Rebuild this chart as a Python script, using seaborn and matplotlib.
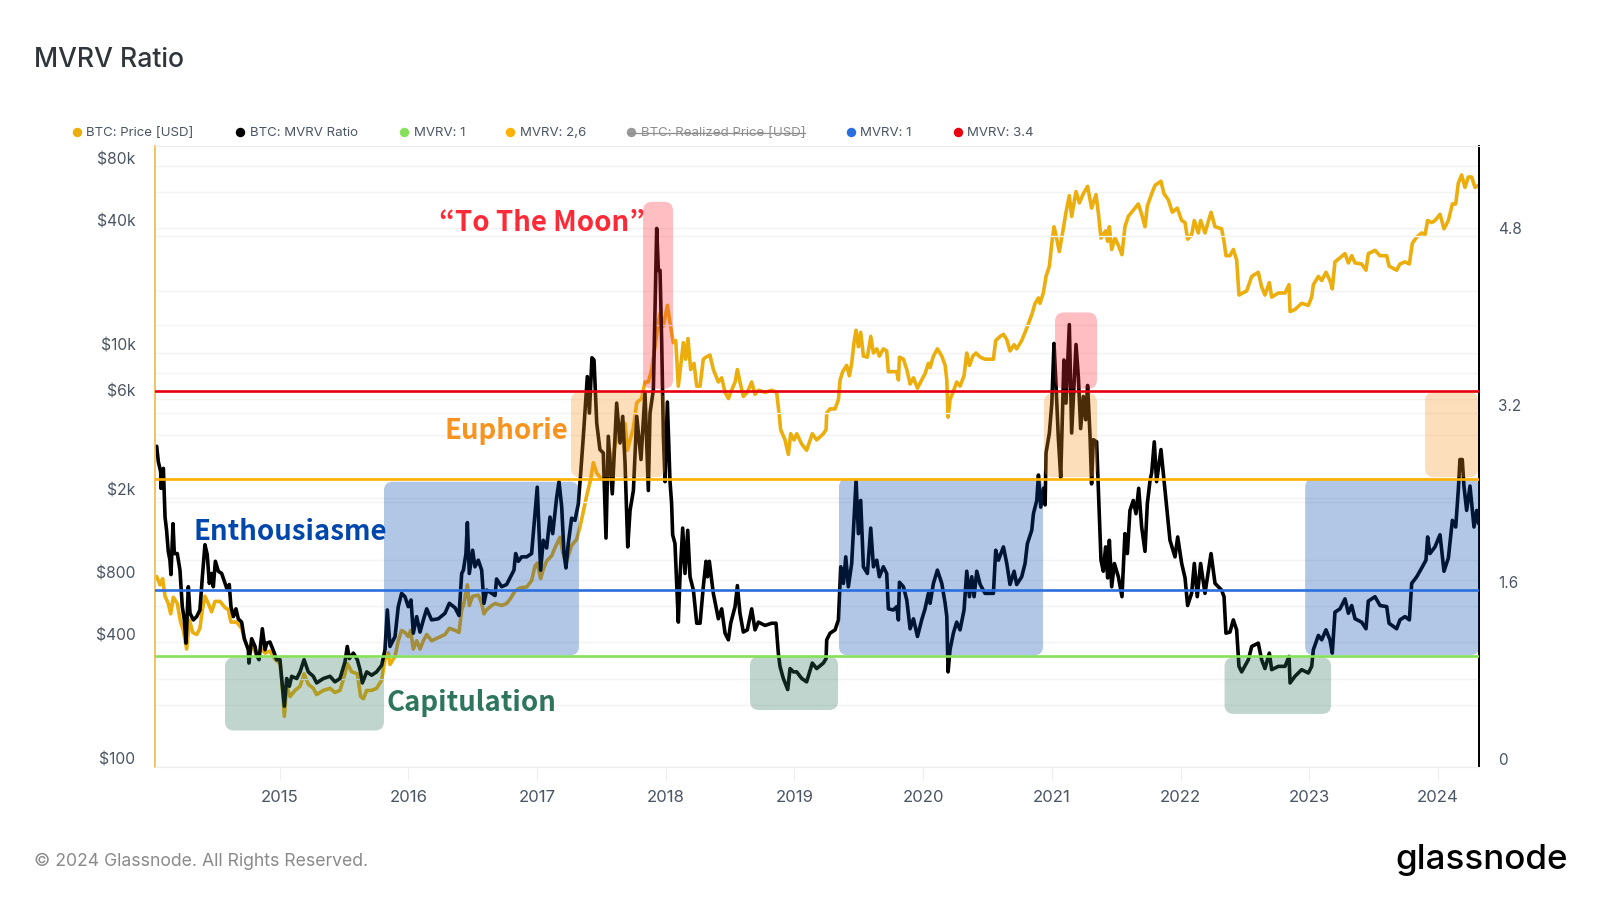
import numpy as np
import pandas as pd
import matplotlib
matplotlib.use("Agg")
import matplotlib.pyplot as plt
import seaborn as sns
from matplotlib.patches import FancyBboxPatch
from matplotlib.lines import Line2D
from matplotlib.transforms import ScaledTranslation, IdentityTransform

TITLE = "MVRV Ratio"
FOOTER = "© 2024 Glassnode. All Rights Reserved."

mvrv_years = [
2014.045,2014.058,2014.076,2014.078,2014.097,2014.110,2014.122,2014.135,2014.148,2014.156,
2014.172,2014.182,2014.205,2014.226,2014.244,2014.260,2014.273,2014.291,2014.304,2014.330,
2014.356,2014.381,2014.400,2014.420,2014.438,2014.454,2014.472,2014.485,2014.501,2014.524,
2014.550,2014.576,2014.594,2014.609,2014.622,2014.641,2014.661,2014.679,2014.705,2014.726,
2014.757,2014.762,2014.783,2014.809,2014.822,2014.840,2014.866,2014.887,2014.900,2014.925,
2014.956,2014.977,2015.003,2015.016,2015.037,2015.055,2015.076,2015.094,2015.133,2015.159,
2015.190,2015.223,2015.262,2015.288,2015.340,2015.392,2015.430,2015.469,2015.508,2015.526,
2015.542,2015.573,2015.604,2015.625,2015.643,2015.677,2015.715,2015.754,2015.793,2015.819,
2015.837,2015.858,2015.897,2015.922,2015.948,2015.974,2016.000,2016.021,2016.039,2016.065,
2016.091,2016.117,2016.143,2016.181,2016.233,2016.285,2016.319,2016.363,2016.394,2016.415,
2016.428,2016.448,2016.459,2016.474,2016.500,2016.518,2016.544,2016.570,2016.588,2016.609,
2016.648,2016.674,2016.686,2016.725,2016.764,2016.790,2016.821,2016.834,2016.855,2016.881,
2016.920,2016.958,2016.984,2017.002,2017.028,2017.049,2017.075,2017.101,2017.122,2017.153,
2017.171,2017.192,2017.210,2017.225,2017.243,2017.269,2017.295,2017.321,2017.339,2017.360,
2017.391,2017.407,2017.427,2017.443,2017.464,2017.489,2017.515,2017.536,2017.554,2017.585,
2017.619,2017.645,2017.666,2017.684,2017.705,2017.723,2017.749,2017.775,2017.808,2017.839,
2017.865,2017.878,2017.904,2017.930,2017.943,2017.956,2017.969,2017.982,2017.995,2018.013,
2018.033,2018.046,2018.054,2018.072,2018.098,2018.111,2018.132,2018.150,2018.171,2018.189,
2018.215,2018.241,2018.267,2018.292,2018.313,2018.324,2018.339,2018.370,2018.409,2018.435,
2018.461,2018.487,2018.505,2018.539,2018.557,2018.577,2018.603,2018.634,2018.668,2018.694,
2018.720,2018.772,2018.823,2018.857,2018.875,2018.888,2018.914,2018.948,2018.966,2018.992,
2019.018,2019.057,2019.095,2019.139,2019.173,2019.225,2019.246,2019.251,2019.277,2019.316,
2019.342,2019.360,2019.381,2019.399,2019.419,2019.445,2019.463,2019.479,2019.497,2019.515,
2019.536,2019.567,2019.593,2019.614,2019.640,2019.660,2019.691,2019.717,2019.730,2019.769,
2019.795,2019.808,2019.816,2019.847,2019.873,2019.899,2019.925,2019.956,2019.989,2020.015,
2020.041,2020.054,2020.080,2020.111,2020.145,2020.171,2020.184,2020.194,2020.209,2020.235,
2020.261,2020.287,2020.318,2020.339,2020.360,2020.378,2020.396,2020.417,2020.443,2020.481,
2020.546,2020.564,2020.585,2020.624,2020.650,2020.675,2020.707,2020.727,2020.766,2020.792,
2020.810,2020.844,2020.857,2020.883,2020.896,2020.914,2020.935,2020.948,2020.955,2020.981,
2021.000,2021.017,2021.032,2021.050,2021.069,2021.094,2021.110,2021.136,2021.154,2021.188,
2021.206,2021.224,2021.245,2021.263,2021.278,2021.297,2021.309,2021.322,2021.348,2021.361,
2021.382,2021.400,2021.418,2021.434,2021.447,2021.465,2021.486,2021.517,2021.545,2021.568,
2021.587,2021.607,2021.633,2021.654,2021.675,2021.698,2021.724,2021.742,2021.763,2021.776,
2021.796,2021.814,2021.848,2021.871,2021.892,2021.918,2021.957,2021.978,2022.009,2022.035,
2022.055,2022.086,2022.107,2022.130,2022.156,2022.190,2022.237,2022.268,2022.319,2022.338,
2022.353,2022.384,2022.410,2022.436,2022.454,2022.475,2022.527,2022.553,2022.604,2022.630,
2022.656,2022.690,2022.708,2022.760,2022.812,2022.843,2022.851,2022.889,2022.941,2022.993,
2023.019,2023.032,2023.071,2023.097,2023.130,2023.161,2023.179,2023.200,2023.239,2023.278,
2023.304,2023.330,2023.356,2023.407,2023.441,2023.459,2023.511,2023.550,2023.602,2023.620,
2023.679,2023.705,2023.744,2023.778,2023.796,2023.835,2023.874,2023.907,2023.920,2023.938,
2023.977,2024.016,2024.047,2024.081,2024.112,2024.138,2024.158,2024.171,2024.189,2024.202,
2024.223,2024.249,2024.280,2024.301,2024.316]

mvrv_values = [
2.90,2.76,2.67,2.52,2.70,2.26,2.14,1.95,1.87,1.74,
2.20,1.93,1.93,1.78,1.45,1.33,1.12,1.63,1.39,1.33,
1.36,1.42,1.72,2.01,1.92,1.66,1.75,1.63,1.86,1.77,
1.75,1.66,1.60,1.65,1.45,1.36,1.43,1.34,1.31,1.16,
1.06,0.94,1.16,1.09,1.01,0.97,1.25,1.06,1.12,1.13,
1.04,0.97,0.97,0.80,0.55,0.80,0.73,0.82,0.80,0.86,
0.97,0.86,0.82,0.76,0.80,0.82,0.77,0.80,0.95,1.09,
0.98,1.03,0.97,0.88,0.76,0.86,0.83,0.86,0.92,1.06,
1.42,1.09,1.18,1.45,1.57,1.54,1.45,1.51,1.21,1.36,
1.22,1.33,1.43,1.33,1.34,1.39,1.48,1.44,1.37,1.75,
1.78,1.93,2.21,1.75,1.96,1.81,1.87,1.78,1.48,1.60,
1.57,1.55,1.70,1.63,1.65,1.71,1.78,1.93,1.86,1.90,
1.90,1.93,2.29,2.53,1.78,2.05,1.98,2.26,2.11,2.44,
2.58,2.35,1.93,1.80,2.02,2.25,2.23,2.38,2.65,2.99,
3.53,3.20,3.70,3.68,3.11,2.87,2.84,2.07,2.99,2.47,
3.29,2.93,3.17,2.75,1.99,2.32,2.50,3.17,2.78,3.38,
2.50,3.20,3.41,4.87,4.49,4.49,3.83,2.99,2.58,3.30,
2.59,2.38,2.10,2.02,1.31,1.72,2.16,1.75,2.14,1.72,
1.60,1.30,1.30,1.63,1.86,1.72,1.86,1.57,1.34,1.43,
1.21,1.15,1.30,1.45,1.64,1.39,1.22,1.24,1.43,1.24,
1.31,1.28,1.30,1.30,1.03,0.91,0.80,0.70,0.89,0.86,
0.86,0.80,0.77,0.94,0.89,0.94,0.98,1.15,1.21,1.24,
1.33,1.81,1.66,1.90,1.63,1.84,2.23,2.59,2.11,2.41,
1.81,1.75,2.16,1.81,1.87,1.72,1.81,1.75,1.43,1.42,
1.45,1.33,1.67,1.63,1.51,1.25,1.34,1.18,1.33,1.43,
1.57,1.48,1.66,1.78,1.66,1.48,1.36,0.86,1.06,1.21,
1.31,1.24,1.42,1.77,1.54,1.72,1.54,1.77,1.65,1.57,
1.57,1.96,1.87,1.99,1.84,1.65,1.77,1.65,1.72,1.84,
2.02,2.14,2.29,2.41,2.64,2.35,2.52,2.37,2.84,3.02,
3.29,3.83,3.47,2.99,2.62,3.68,3.29,4.00,3.02,3.82,
3.53,3.06,3.35,3.14,3.45,2.99,2.56,2.96,2.94,2.54,
1.87,1.77,1.99,1.71,2.05,1.63,1.84,1.72,1.54,2.11,
1.93,2.32,2.41,2.29,2.52,2.17,1.95,2.38,2.59,2.66,
2.94,2.58,2.87,2.60,2.36,2.05,1.90,2.08,1.84,1.71,
1.46,1.57,1.84,1.54,1.84,1.57,1.93,1.66,1.60,1.54,
1.21,1.22,1.33,1.24,0.91,0.86,0.97,1.09,1.12,0.97,
0.89,1.03,0.88,0.91,0.91,1.00,0.76,0.82,0.88,0.85,
0.91,1.06,1.19,1.15,1.24,1.15,1.03,1.40,1.43,1.52,
1.39,1.46,1.34,1.31,1.25,1.50,1.54,1.46,1.45,1.30,
1.25,1.33,1.36,1.33,1.66,1.72,1.80,1.87,2.08,1.93,
1.99,2.10,1.77,1.89,2.23,2.17,2.50,2.78,2.78,2.54,
2.32,2.54,2.17,2.32,2.20]

price_years = [
2014.045,2014.071,2014.091,2014.110,2014.135,2014.154,2014.174,2014.205,2014.231,2014.252,
2014.278,2014.299,2014.325,2014.356,2014.381,2014.400,2014.420,2014.446,2014.472,2014.498,
2014.537,2014.576,2014.602,2014.622,2014.641,2014.666,2014.705,2014.726,2014.757,2014.783,
2014.822,2014.861,2014.887,2014.925,2014.964,2015.003,2015.016,2015.037,2015.055,2015.081,
2015.120,2015.159,2015.190,2015.223,2015.262,2015.288,2015.340,2015.392,2015.430,2015.469,
2015.508,2015.526,2015.560,2015.604,2015.630,2015.651,2015.677,2015.715,2015.754,2015.793,
2015.819,2015.845,2015.858,2015.897,2015.922,2015.948,2015.974,2016.000,2016.018,2016.039,
2016.065,2016.091,2016.117,2016.143,2016.181,2016.233,2016.285,2016.319,2016.363,2016.394,
2016.415,2016.428,2016.459,2016.474,2016.500,2016.544,2016.570,2016.588,2016.609,2016.648,
2016.674,2016.725,2016.764,2016.790,2016.829,2016.868,2016.920,2016.958,2016.984,2017.002,
2017.028,2017.049,2017.075,2017.114,2017.140,2017.179,2017.199,2017.225,2017.269,2017.308,
2017.334,2017.360,2017.386,2017.417,2017.438,2017.464,2017.502,2017.541,2017.593,2017.645,
2017.684,2017.702,2017.723,2017.749,2017.775,2017.813,2017.839,2017.865,2017.891,2017.917,
2017.943,2017.956,2017.982,2018.013,2018.033,2018.059,2018.078,2018.098,2018.119,2018.137,
2018.155,2018.173,2018.194,2018.220,2018.241,2018.267,2018.292,2018.313,2018.344,2018.370,
2018.409,2018.435,2018.461,2018.487,2018.505,2018.539,2018.557,2018.577,2018.603,2018.634,
2018.668,2018.694,2018.720,2018.772,2018.823,2018.862,2018.883,2018.893,2018.927,2018.953,
2018.971,2018.997,2019.018,2019.057,2019.095,2019.139,2019.173,2019.225,2019.246,2019.251,
2019.277,2019.316,2019.342,2019.355,2019.375,2019.406,2019.427,2019.445,2019.463,2019.479,
2019.497,2019.515,2019.536,2019.567,2019.593,2019.614,2019.640,2019.660,2019.691,2019.717,
2019.730,2019.769,2019.795,2019.808,2019.816,2019.847,2019.873,2019.899,2019.925,2019.956,
2019.989,2020.015,2020.041,2020.054,2020.080,2020.111,2020.145,2020.171,2020.184,2020.194,
2020.209,2020.235,2020.261,2020.287,2020.318,2020.339,2020.360,2020.386,2020.411,2020.443,
2020.481,2020.546,2020.564,2020.598,2020.624,2020.650,2020.675,2020.707,2020.727,2020.766,
2020.805,2020.844,2020.870,2020.896,2020.908,2020.934,2020.955,2020.981,2021.000,2021.017,
2021.032,2021.058,2021.089,2021.110,2021.136,2021.154,2021.188,2021.214,2021.245,2021.278,
2021.309,2021.343,2021.361,2021.382,2021.418,2021.434,2021.447,2021.465,2021.491,2021.517,
2021.545,2021.568,2021.594,2021.633,2021.672,2021.698,2021.724,2021.742,2021.776,2021.802,
2021.848,2021.871,2021.905,2021.936,2021.975,2022.009,2022.035,2022.055,2022.086,2022.107,
2022.138,2022.156,2022.190,2022.237,2022.268,2022.319,2022.338,2022.353,2022.384,2022.410,
2022.436,2022.454,2022.514,2022.553,2022.604,2022.630,2022.656,2022.690,2022.708,2022.760,
2022.812,2022.843,2022.851,2022.889,2022.941,2022.993,2023.019,2023.032,2023.071,2023.097,
2023.130,2023.161,2023.179,2023.200,2023.239,2023.278,2023.304,2023.330,2023.356,2023.407,
2023.441,2023.459,2023.511,2023.550,2023.602,2023.620,2023.679,2023.705,2023.744,2023.778,
2023.801,2023.835,2023.874,2023.899,2023.920,2023.951,2023.977,2024.016,2024.047,2024.081,
2024.112,2024.138,2024.158,2024.184,2024.210,2024.236,2024.262,2024.288,2024.316]

# BTC price, as log10(USD)
price_log10_usd = [
2.92,2.88,2.91,2.825,2.79,2.74,2.82,2.79,2.70,2.66,
2.57,2.71,2.65,2.64,2.67,2.76,2.825,2.79,2.75,2.80,
2.80,2.77,2.76,2.70,2.70,2.70,2.67,2.62,2.57,2.59,
2.54,2.57,2.55,2.56,2.52,2.50,2.43,2.245,2.39,2.34,
2.37,2.39,2.45,2.40,2.38,2.35,2.37,2.38,2.36,2.37,
2.45,2.50,2.46,2.45,2.34,2.33,2.37,2.37,2.38,2.42,
2.52,2.55,2.495,2.535,2.61,2.66,2.65,2.63,2.66,2.57,
2.61,2.57,2.61,2.64,2.61,2.625,2.64,2.67,2.66,2.65,
2.76,2.78,2.88,2.78,2.825,2.83,2.79,2.74,2.76,2.78,
2.79,2.78,2.79,2.81,2.85,2.865,2.87,2.90,2.97,2.985,
2.91,2.955,2.995,3.02,3.06,3.11,3.04,2.985,3.07,3.10,
3.16,3.235,3.31,3.39,3.47,3.42,3.39,3.405,3.52,3.65,
3.66,3.53,3.58,3.64,3.76,3.78,3.86,3.86,3.92,4.03,
4.15,4.19,4.13,4.23,4.15,4.05,4.06,3.84,3.95,4.05,
3.97,4.07,3.92,3.95,3.84,3.84,3.97,3.98,3.99,3.92,
3.86,3.88,3.81,3.78,3.81,3.86,3.92,3.86,3.79,3.81,
3.86,3.80,3.82,3.81,3.82,3.81,3.695,3.63,3.58,3.51,
3.61,3.58,3.61,3.56,3.53,3.61,3.58,3.61,3.63,3.71,
3.73,3.73,3.775,3.87,3.91,3.94,3.89,3.95,4.05,4.11,
4.03,4.10,3.985,3.98,4.08,4.00,4.02,3.985,4.02,4.01,
3.91,3.91,3.91,3.87,3.98,3.97,3.92,3.85,3.88,3.83,
3.87,3.90,3.95,3.93,3.985,4.02,3.985,3.94,3.87,3.69,
3.775,3.815,3.86,3.84,3.89,4.00,3.94,3.985,4.00,3.98,
3.97,3.97,4.06,4.08,4.09,4.065,4.01,4.04,4.02,4.06,
4.12,4.185,4.24,4.266,4.24,4.29,4.37,4.42,4.53,4.61,
4.57,4.49,4.60,4.68,4.76,4.66,4.78,4.725,4.77,4.805,
4.70,4.765,4.68,4.555,4.59,4.54,4.61,4.50,4.555,4.52,
4.475,4.61,4.66,4.69,4.72,4.67,4.61,4.71,4.77,4.81,
4.83,4.77,4.74,4.68,4.70,4.64,4.63,4.55,4.57,4.64,
4.58,4.64,4.58,4.68,4.61,4.60,4.54,4.47,4.47,4.50,
4.45,4.28,4.30,4.37,4.39,4.32,4.28,4.34,4.27,4.29,
4.29,4.33,4.20,4.21,4.24,4.23,4.27,4.33,4.37,4.35,
4.39,4.35,4.31,4.44,4.46,4.48,4.435,4.47,4.435,4.43,
4.40,4.48,4.496,4.47,4.47,4.42,4.40,4.43,4.44,4.43,
4.53,4.56,4.58,4.57,4.64,4.63,4.64,4.67,4.60,4.64,
4.72,4.72,4.82,4.86,4.80,4.85,4.85,4.80,4.81]

year_ticks = [2015,2016,2017,2018,2019,2020,2021,2022,2023,2024]
price_ticks = [100,400,800,2000,6000,10000,40000,80000]
price_tick_labels = ["$100","$400","$800","$2k","$6k","$10k","$40k","$80k"]
price_minor_ticks = [200,600,1000,4000,8000,20000,60000]
mvrv_ticks = [0,1.6,3.2,4.8]
mvrv_minor_ticks = [0.8,2.4,4.0]

level_values = [1.0,1.6,2.6,3.4]
level_colors = ["#86E05A","#2B6FDE","#FFB000","#E8000F"]

legend_labels = ["BTC: Price [USD]","BTC: MVRV Ratio","MVRV: 1","MVRV: 2,6",
                 "BTC: Realized Price [USD]","MVRV: 1","MVRV: 3.4"]
legend_colors = ["#ECAE0C","#000000","#86E05A","#FFB000","#9A9A9A","#2B6FDE","#E8000F"]

BLUE, GREEN, ORANGE, RED = "#0047AB", "#2D765C", "#F7931E", "#FF2A37"
# zones: (start year, end year, low MVRV, high MVRV)
zones_blue = [(2015.811,2017.326,1.01,2.58),(2019.346,2020.932,1.01,2.61),(2022.968,2024.320,1.01,2.61)]
zones_green = [(2014.576,2015.811,0.33,0.99),(2018.655,2019.339,0.515,1.00),(2022.342,2023.170,0.48,0.99)]
zones_orange = [(2017.264,2017.995,2.62,3.39),(2020.939,2021.351,2.62,3.38),(2023.900,2024.312,2.62,3.39)]
zones_red = [(2017.824,2018.057,3.42,5.11),(2021.025,2021.351,3.42,4.11)]

W, H = 1600, 900
FONT = ["Inter","DejaVu Sans"]
HEAD = ["Noto Sans CJK JP","DejaVu Sans"]
TICK = "#4B5563"

sns.set_theme(style="white")
plt.rcParams["font.family"] = FONT
fig = plt.figure(figsize=(16,9), dpi=100, facecolor="white")
ax = fig.add_axes([155/W, 1-767/H, 1324/W, 621/H])
ax2 = ax.twinx()

price_df = pd.DataFrame({"year":price_years,"price":10**np.array(price_log10_usd)})
mvrv_df = pd.DataFrame({"year":mvrv_years,"mvrv":mvrv_values})

sns.lineplot(data=price_df,x="year",y="price",ax=ax,color="#ECAE0C",lw=2.6,estimator=None,sort=False,errorbar=None)
sns.lineplot(data=mvrv_df,x="year",y="mvrv",ax=ax2,color="#000000",lw=2.6,estimator=None,sort=False,errorbar=None,zorder=2)

ax.set_yscale("log")
ax.set_xlim(2014.032,2024.319)
ax.set_ylim(100,100000)
ax2.set_ylim(0,5.615)
ax.set_xlabel(""); ax.set_ylabel(""); ax2.set_ylabel("")

ax.set_xticks(year_ticks)
ax.set_xticklabels([str(y) for y in year_ticks])
ax.set_yticks(price_ticks)
ax.set_yticklabels(price_tick_labels)
ax.set_yticks(price_minor_ticks,minor=True)
ax.set_yticklabels([""]*len(price_minor_ticks),minor=True)
ax2.set_yticks(mvrv_ticks)
ax2.set_yticklabels(["0","1.6","3.2","4.8"])
ax2.set_yticks(mvrv_minor_ticks,minor=True)
ax2.set_yticklabels([""]*len(mvrv_minor_ticks),minor=True)

GRID = "#F3F3F3"
for a in (ax,ax2):
    a.grid(True,which="both",axis="y",color=GRID,lw=1,zorder=0)
    a.set_axisbelow(True)
ax.grid(False,axis="x")
ax2.grid(False,axis="x")
ax.tick_params(axis="x",which="major",length=9.5,width=0.8,color="#EEEEEE",labelsize=12,labelcolor=TICK,pad=7,bottom=True)
ax.tick_params(axis="y",which="both",length=0,labelsize=11.3,labelcolor=TICK,pad=14)
ax2.tick_params(axis="y",which="both",length=0,labelsize=11,labelcolor=TICK,pad=14)

shift = ScaledTranslation(0,8/100,fig.dpi_scale_trans)
for a in (ax,ax2):
    for lab in a.get_yticklabels():
        lab.set_transform(lab.get_transform()+shift)

for s in ("top","bottom"):
    for a in (ax,ax2):
        a.spines[s].set_color("#EEEEEE"); a.spines[s].set_linewidth(0.8)
for a in (ax,ax2):
    a.spines["left"].set_color("#F2C35F"); a.spines["left"].set_linewidth(1.2)
    a.spines["right"].set_color("#000000"); a.spines["right"].set_linewidth(1.3)

fig.canvas.draw()
def draw_zone(z,color):
    x0,x1,y0,y1 = z
    (px0,py0),(px1,py1) = ax2.transData.transform([(x0,y0),(x1,y1)])
    r = 9
    p = FancyBboxPatch((px0+r,py0+r),px1-px0-2*r,py1-py0-2*r,
                       boxstyle=f"round,pad={r},rounding_size={r}",
                       transform=IdentityTransform(),fc=color,ec="none",alpha=0.3,zorder=3)
    ax2.add_patch(p)
for zs,c in ((zones_blue,BLUE),(zones_green,GREEN),(zones_orange,ORANGE),(zones_red,RED)):
    for z in zs:
        draw_zone(z,c)

for v,c in zip(level_values,level_colors):
    ax2.axhline(v,color=c,lw=1.9,zorder=4)

def tx(x,y,s,**k):
    return fig.text(x/W,1-y/H,s,**k)

tx(34,60,TITLE,fontsize=19.1,color="#30343B",va="center",ha="left",fontweight="medium")
tx(34,861,FOOTER,fontsize=12.7,color="#8A8A8A",va="center",ha="left")
tx(1395,860,"glassnode",fontsize=25.2,color="#000000",va="center",ha="left",fontweight="medium")

legend_dots = [76.5,240,404,510,631,851,958]
legend_text = [85.7,250,414,520,641,860,967]
for dx,tx0,lab,col in zip(legend_dots,legend_text,legend_labels,legend_colors):
    fig.add_artist(Line2D([dx/W],[1-132/H],marker="o",ms=6.8,color=col,mec="none",ls="none",transform=fig.transFigure))
    grey = lab.startswith("BTC: Realized")
    tx(tx0,133.5,lab,fontsize=9.55,color="#8E8E8E" if grey else TICK,va="center",ha="left")
    if grey:
        fig.add_artist(Line2D([628/W,805/W],[1-133/H]*2,color="#8E8E8E",lw=0.9,transform=fig.transFigure))

tx(439,223,"“To The Moon”",fontsize=19.9,color=RED,fontweight="bold",family=HEAD,va="center",ha="left")
tx(444,431,"Euphorie",fontsize=19.9,color=ORANGE,fontweight="bold",family=HEAD,va="center",ha="left")
tx(193,532,"Enthousiasme",fontsize=19.9,color=BLUE,fontweight="bold",family=HEAD,va="center",ha="left")
tx(387,703,"Capitulation",fontsize=19.9,color=GREEN,fontweight="bold",family=HEAD,va="center",ha="left")

fig.savefig("out.png",dpi=100,facecolor="white")
